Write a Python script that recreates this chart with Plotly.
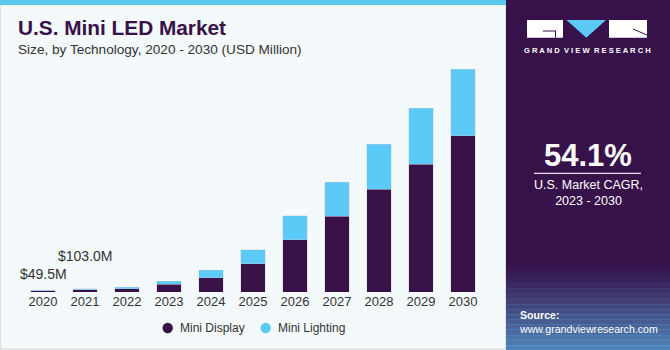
import plotly.graph_objects as go

years = ["2020", "2021", "2022", "2023", "2024", "2025", "2026", "2027", "2028", "2029", "2030"]
mini_display = [35, 70, 105, 231, 430, 850, 1570, 2270, 3090, 3840, 4690]
mini_lighting = [14.5, 33, 45, 89, 230, 420, 720, 1020, 1350, 1670, 1990]
label_years = ["2020", "2021"]
label_texts = ["$49.5M", "$103.0M"]
series_names = ["Mini Display", "Mini Lighting"]

DARK = "#371148"
LIGHT = "#5BCAF6"
BG = "#F4F9FC"
FONT = "Liberation Sans"

W, H = 670, 350
def px(x):
    return x / W
def py(y):
    return (H - y) / H

fig = go.Figure()
fig.add_trace(go.Bar(x=years, y=mini_display, name=series_names[0], marker=dict(color=DARK, line=dict(color="rgba(200,200,220,0.6)", width=0.6)), showlegend=False))
fig.add_trace(go.Bar(x=years, y=mini_lighting, name=series_names[1], marker=dict(color=LIGHT, line=dict(color="rgba(200,200,220,0.6)", width=0.6)), showlegend=False))

shapes = []
# left panel border and top strip
shapes.append(dict(type="rect", xref="paper", yref="paper", x0=0, x1=px(506), y0=py(349), y1=1, fillcolor=BG, line=dict(color="#D2D2D2", width=1.2), layer="below"))
shapes.append(dict(type="rect", xref="paper", yref="paper", x0=0, x1=px(506), y0=py(5), y1=1, fillcolor="#5BC8F0", line=dict(width=0), layer="below"))
# right panel
shapes.append(dict(type="rect", xref="paper", yref="paper", x0=px(506), x1=1, y0=0, y1=1, fillcolor="#37114A", line=dict(width=0), layer="below"))
# gradient at bottom of right panel
n = 16
for i in range(n):
    y0 = 268 + i * (82 / n)
    y1 = y0 + 82 / n + 0.5
    op = 0.05 + 0.65 * (i / (n - 1)) ** 1.1
    shapes.append(dict(type="rect", xref="paper", yref="paper", x0=px(506), x1=1, y0=py(y1), y1=py(y0), fillcolor="#5AB4E6", opacity=op, line=dict(width=0), layer="below"))
# logo
shapes.append(dict(type="rect", xref="paper", yref="paper", x0=px(527), x1=px(563), y0=py(37.7), y1=py(20), fillcolor="white", line=dict(width=0)))
shapes.append(dict(type="path", xref="paper", yref="paper", path=f"M {px(566.5)},{py(20)} L {px(606)},{py(20)} L {px(586.3)},{py(37.7)} Z", fillcolor="#5BC8F5", line=dict(width=0)))
shapes.append(dict(type="rect", xref="paper", yref="paper", x0=px(609), x1=px(647), y0=py(37.7), y1=py(20), fillcolor="white", line=dict(width=0)))
shapes.append(dict(type="line", xref="paper", yref="paper", x0=px(543), x1=px(556), y0=py(31), y1=py(31), line=dict(color="#37114A", width=1)))
shapes.append(dict(type="line", xref="paper", yref="paper", x0=px(555.5), x1=px(555.5), y0=py(31), y1=py(37.7), line=dict(color="#37114A", width=1)))
shapes.append(dict(type="line", xref="paper", yref="paper", x0=px(633), x1=px(647), y0=py(29), y1=py(35), line=dict(color="#37114A", width=1)))
# divider under CAGR
shapes.append(dict(type="line", xref="paper", yref="paper", x0=px(534), x1=px(641), y0=py(173.3), y1=py(173.3), line=dict(color="#E8E0EE", width=1.2)))

annotations = [
    dict(text="<b>U.S. Mini LED Market</b>", x=px(16), y=py(28), xref="paper", yref="paper", xanchor="left", yanchor="middle", showarrow=False, font=dict(family=FONT, size=20.8, color="#371148")),
    dict(text="Size, by Technology, 2020 - 2030 (USD Million)", x=px(16), y=py(49), xref="paper", yref="paper", xanchor="left", yanchor="middle", showarrow=False, font=dict(family=FONT, size=13.6, color="#333333")),
    dict(text="<b>G R A N D  V I E W  R E S E A R C H</b>", x=px(587), y=py(50.5), xref="paper", yref="paper", xanchor="center", yanchor="middle", showarrow=False, font=dict(family=FONT, size=7.6, color="white")),
    dict(text="<b>54.1%</b>", x=px(588), y=py(155), xref="paper", yref="paper", xanchor="center", yanchor="middle", showarrow=False, font=dict(family=FONT, size=31, color="white")),
    dict(text="U.S. Market CAGR,<br>2023 - 2030", x=px(588), y=py(193), xref="paper", yref="paper", xanchor="center", yanchor="middle", showarrow=False, font=dict(family=FONT, size=12.5, color="white")),
    dict(text="<b>Source:</b><br>www.grandviewresearch.com", x=px(517), y=py(322), xref="paper", yref="paper", xanchor="left", yanchor="middle", align="left", showarrow=False, font=dict(family=FONT, size=10.6, color="white")),
]
label_y = [py(274), py(256)]
for yr, t, yy in zip(label_years, label_texts, label_y):
    annotations.append(dict(text=t, x=years.index(yr), y=yy, xref="x", yref="paper", xanchor="center", yanchor="middle", showarrow=False, font=dict(family=FONT, size=14, color="#333333")))

# legend (drawn manually to match spacing)
legend_items = [(series_names[0], DARK, 167.7), (series_names[1], LIGHT, 265.7)]
for name, col, cx in legend_items:
    r = 5.2
    shapes.append(dict(type="circle", xref="paper", yref="paper", x0=px(cx - r), x1=px(cx + r), y0=py(328 + r), y1=py(328 - r), fillcolor=col, line=dict(width=0)))
    annotations.append(dict(text=name, x=px(cx + 10), y=py(328), xref="paper", yref="paper", xanchor="left", yanchor="middle", showarrow=False, font=dict(family=FONT, size=12, color="#333333")))

fig.update_layout(
    width=W, height=H,
    margin=dict(l=0, r=0, t=0, b=0),
    paper_bgcolor="white",
    plot_bgcolor="rgba(0,0,0,0)",
    barmode="stack",
    bargap=0.42,
    shapes=shapes,
    annotations=annotations,
    showlegend=False,
    xaxis=dict(domain=[px(22), px(484)], type="category", range=[-0.5, 10.5], showgrid=False, showline=False, zeroline=False, ticks="", tickfont=dict(family=FONT, size=13, color="#333333"), fixedrange=True),
    yaxis=dict(domain=[py(292), py(60)], range=[0, (292 - 60) * 30], visible=False, fixedrange=True),
)

fig.write_html("out.html")
